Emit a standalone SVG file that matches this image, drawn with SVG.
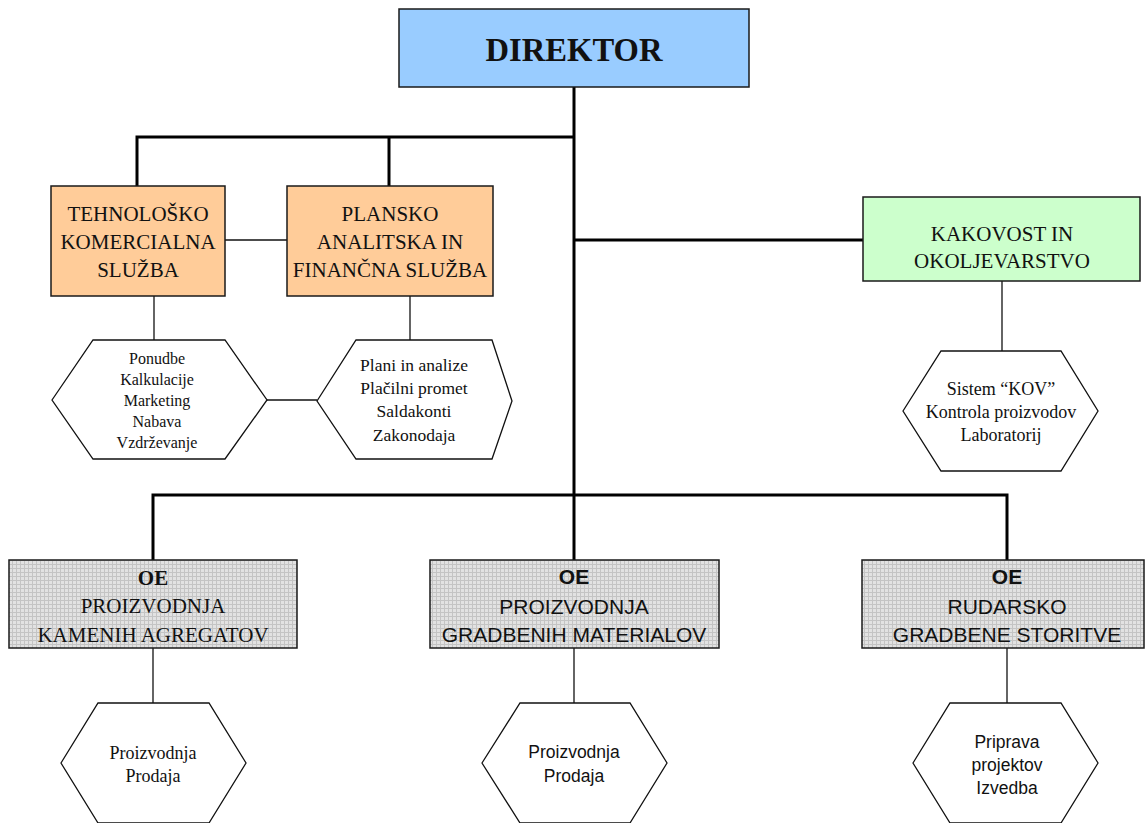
<svg xmlns="http://www.w3.org/2000/svg" width="1145" height="823" viewBox="0 0 1145 823">
<defs>
<pattern id="grid" width="4" height="4" patternUnits="userSpaceOnUse">
<rect width="4" height="4" fill="#e2e2e2"/>
<path d="M0,0.5 H4 M0.5,0 V4" stroke="#c4c4c4" stroke-width="1"/>
</pattern>
</defs>
<style>
.box{stroke:#1a1a1a;stroke-width:1.5}
.hex{fill:#fff;stroke:#111;stroke-width:1.3}
.thick{fill:none;stroke:#000;stroke-width:3}
.thin{fill:none;stroke:#111;stroke-width:1.3}
.serif{font-family:"Liberation Serif","Times New Roman",serif;fill:#111;text-anchor:middle}
.sans{font-family:"Liberation Sans",Arial,sans-serif;fill:#111;text-anchor:middle}
.t21{font-size:21px}
.b{font-weight:bold}
</style>
<rect width="1145" height="823" fill="#fff"/>
<g id="connectors">
<path class="thick" d="M574,87 V560"/>
<path class="thick" d="M137,186 V137 H574"/>
<path class="thick" d="M389,137 V186"/>
<path class="thick" d="M574,240 H863"/>
<path class="thick" d="M153,560 V495 H1007 V560"/>
<path class="thin" d="M225,240 H287"/>
<path class="thin" d="M154,296 V340"/>
<path class="thin" d="M410,296 V340"/>
<path class="thin" d="M267,400 H317"/>
<path class="thin" d="M1002,281 V351"/>
<path class="thin" d="M153,648 V703"/>
<path class="thin" d="M574,648 V703"/>
<path class="thin" d="M1007,648 V703"/>
</g>
<g id="direktor">
<rect class="box" x="399" y="9" width="350" height="78" fill="#99CCFF"/>
<text class="serif b" x="574" y="61" font-size="34" textLength="177" lengthAdjust="spacingAndGlyphs">DIREKTOR</text>
</g>
<g id="tehnolosko">
<rect class="box" x="51" y="186" width="174" height="110" fill="#FFCC99"/>
<text class="serif t21" x="138" y="221">TEHNOLOŠKO</text>
<text class="serif t21" x="138" y="249">KOMERCIALNA</text>
<text class="serif t21" x="138" y="277">SLUŽBA</text>
</g>
<g id="plansko">
<rect class="box" x="287" y="186" width="206" height="110" fill="#FFCC99"/>
<text class="serif t21" x="390" y="221">PLANSKO</text>
<text class="serif t21" x="390" y="249">ANALITSKA IN</text>
<text class="serif t21" x="390" y="277">FINANČNA SLUŽBA</text>
</g>
<g id="kakovost">
<rect class="box" x="863" y="197" width="277" height="84" fill="#CCFFCC"/>
<text class="serif t21" x="1002" y="241">KAKOVOST IN</text>
<text class="serif t21" x="1002" y="268">OKOLJEVARSTVO</text>
</g>
<g id="hex-tehnolosko">
<polygon class="hex" points="52,400 93,340 225,340 267,400 225,459 93,459"/>
<text class="serif" font-size="16" x="157" y="364">Ponudbe</text>
<text class="serif" font-size="16" x="157" y="385">Kalkulacije</text>
<text class="serif" font-size="16" x="157" y="406">Marketing</text>
<text class="serif" font-size="16" x="157" y="427">Nabava</text>
<text class="serif" font-size="16" x="157" y="448">Vzdrževanje</text>
</g>
<g id="hex-plansko">
<polygon class="hex" points="317,401 356,340 492,340 512,401 492,459 356,459"/>
<text class="serif" font-size="17.5" x="414" y="371">Plani in analize</text>
<text class="serif" font-size="17.5" x="414" y="394">Plačilni promet</text>
<text class="serif" font-size="17.5" x="414" y="417">Saldakonti</text>
<text class="serif" font-size="17.5" x="414" y="441">Zakonodaja</text>
</g>
<g id="hex-kakovost">
<polygon class="hex" points="903,411 941,351 1061,351 1098,411 1061,471 941,471"/>
<text class="serif" font-size="18" x="1001" y="395">Sistem “KOV”</text>
<text class="serif" font-size="18" x="1001" y="418">Kontrola proizvodov</text>
<text class="serif" font-size="18" x="1001" y="441">Laboratorij</text>
</g>
<g id="oe-kamenih">
<rect class="box" x="9" y="560" width="288" height="88" fill="url(#grid)"/>
<text class="serif t21 b" x="153" y="585">OE</text>
<text class="serif t21" x="153" y="613">PROIZVODNJA</text>
<text class="serif t21" x="153" y="642">KAMENIH AGREGATOV</text>
</g>
<g id="oe-gradbenih">
<rect class="box" x="430" y="560" width="289" height="88" fill="url(#grid)"/>
<text class="sans t21 b" x="574" y="584">OE</text>
<text class="sans t21" x="574" y="614">PROIZVODNJA</text>
<text class="sans t21" x="574" y="642">GRADBENIH MATERIALOV</text>
</g>
<g id="oe-rudarsko">
<rect class="box" x="862" y="560" width="282" height="88" fill="url(#grid)"/>
<text class="sans t21 b" x="1007" y="584">OE</text>
<text class="sans t21" x="1007" y="614">RUDARSKO</text>
<text class="sans t21" x="1007" y="642">GRADBENE STORITVE</text>
</g>
<g id="hex-kamenih">
<polygon class="hex" points="61,763 98,703 209,703 246,763 209,823 98,823"/>
<text class="serif" font-size="18" x="153" y="759">Proizvodnja</text>
<text class="serif" font-size="18" x="153" y="782">Prodaja</text>
</g>
<g id="hex-gradbenih">
<polygon class="hex" points="482,763 520,703 630,703 667,763 630,823 520,823"/>
<text class="sans" font-size="17.5" x="574" y="758">Proizvodnja</text>
<text class="sans" font-size="17.5" x="574" y="782">Prodaja</text>
</g>
<g id="hex-rudarsko">
<polygon class="hex" points="913,763 950,703 1061,703 1098,763 1061,823 950,823"/>
<text class="sans" font-size="17.5" x="1007" y="748">Priprava</text>
<text class="sans" font-size="17.5" x="1007" y="771">projektov</text>
<text class="sans" font-size="17.5" x="1007" y="794">Izvedba</text>
</g>
</svg>
